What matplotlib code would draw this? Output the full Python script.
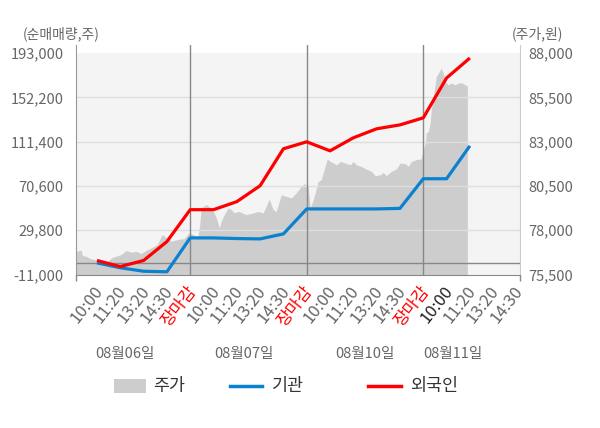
import matplotlib.pyplot as plt
from matplotlib.patches import Rectangle
from matplotlib.lines import Line2D
from matplotlib.transforms import blended_transform_factory, offset_copy

plt.rcParams['font.family'] = ['Noto Sans CJK KR', 'DejaVu Sans']

# x axis: 5 slots per trading day (open, 10:00, 11:20, 13:20, 14:30, 장마감)
tick_labels = ['10:00', '11:20', '13:20', '14:30', '장마감'] * 3 + ['10:00', '11:20', '13:20', '14:30']
dates = ['08월06일', '08월07일', '08월10일', '08월11일']

# cumulative net buying (주) at each tick
flow_pos = list(range(1, 18))
inst = [-300, -4800, -8000, -8500, 22700, 22700, 22100, 21800, 26400,
        49400, 49400, 49400, 49400, 49900, 77200, 77200, 107500]
foreign = [1900, -3700, 1900, 19300, 48700, 48700, 56100, 70800, 104800,
           111200, 102900, 114900, 123200, 126800, 133300, 170000, 188400]

# share price (원)
price_pos = [0.10, 0.32, 0.37, 0.54, 0.67, 0.88, 1.09, 1.27, 1.44, 1.65, 2.04, 2.25, 2.47,
             2.68, 2.90, 3.11, 3.33, 3.58, 3.80, 3.97, 4.19, 4.44, 4.74, 4.96,
             5.13, 5.26, 5.34, 5.41, 5.47, 5.69, 5.82, 5.99, 6.12, 6.25, 6.33, 6.46, 6.63,
             6.76, 6.89, 7.10, 7.40, 7.70, 7.92, 8.13, 8.26, 8.39, 8.56, 8.69, 8.91, 9.12,
             9.34, 9.55, 9.76, 9.89, 9.98,
             10.06, 10.15, 10.28, 10.49, 10.62, 10.79, 10.88, 11.01, 11.14, 11.27, 11.44,
             11.65, 11.87, 12.00, 12.12, 12.34, 12.55, 12.77, 12.94, 13.16, 13.28, 13.41,
             13.63, 13.84, 14.01, 14.23, 14.36, 14.49, 14.70, 14.91,
             15.00, 15.09, 15.13, 15.22, 15.30, 15.34, 15.43, 15.52, 15.56, 15.69, 15.77,
             15.86, 15.94, 16.07, 16.20, 16.37, 16.50, 16.63, 16.80, 16.89]
price = [76800, 76870, 76570, 76530, 76420, 76350, 76250, 76060, 76230, 76460, 76630, 76850, 76760,
         76810, 76680, 76870, 77000, 77190, 77750, 77580, 77380, 77470, 77530, 77870,
         77750, 77660, 77700, 78320, 79270, 79440, 79330, 79060, 78710, 78130, 78500, 78880, 79260,
         79160, 78990, 79060, 78880, 78970, 79060, 78970, 79350, 79760, 79160, 79060, 80000, 79910,
         79820, 80100, 80470, 80620, 80570,
         80470, 79270, 79720, 80750, 80850, 81600, 82020, 81880, 81790, 81690, 81880,
         81790, 81690, 81880, 81690, 81600, 81450, 81320, 81080, 81130, 81260, 81080,
         81320, 81450, 81790, 81750, 81600, 81880, 81980, 82020,
         82540, 82930, 83500, 83570, 84060, 84790, 85540, 86300, 86670, 86950, 87140,
         86860, 86390, 86200, 86300, 86200, 86300, 86330, 86200, 86140]

left_ticks = [-11000, 29800, 70600, 111400, 152200, 193000]
right_ticks = [75500, 78000, 80500, 83000, 85500, 88000]
head = 1.0361  # axes extend a little above the top gridline

fig = plt.figure(figsize=(6, 4.28), dpi=100)
ax = fig.add_axes([76 / 600, 1 - 274.5 / 428, 444 / 600, 229.5 / 428])
ax2 = ax.twinx()
ax.set_zorder(ax2.get_zorder() + 1)
ax.patch.set_visible(False)
ax2.patch.set_visible(True)
ax2.patch.set_facecolor('white')

# price area
ax2.axhspan(right_ticks[0], right_ticks[-1], color='#f4f4f4', lw=0, zorder=0)
ax2.fill_between(price_pos, right_ticks[0], price, color='#cdcdcd', lw=0, zorder=1)
ax2.set_ylim(right_ticks[0], right_ticks[0] + (right_ticks[-1] - right_ticks[0]) * head)
ax2.set_yticks(right_ticks)
ax2.set_yticklabels([f'{v:,}' for v in right_ticks])

# gridlines, zero line, day separators
for v in left_ticks[1:-1]:
    ax.axhline(v, color='#dedede', lw=1, zorder=1)
ax.axhline(0, color='#888888', lw=1, zorder=2)
for d in [5, 10, 15]:
    ax.axvline(d, color='#888888', lw=1, zorder=2)

ax.plot(flow_pos, inst, color='#0a82d0', lw=2.3, zorder=4, solid_capstyle='butt')
ax.plot(flow_pos, foreign, color='#ff0000', lw=2.3, zorder=5, solid_capstyle='butt')

ax.set_ylim(left_ticks[0], left_ticks[0] + (left_ticks[-1] - left_ticks[0]) * head)
ax.set_yticks(left_ticks)
ax.set_yticklabels([f'{v:,}' for v in left_ticks])
ax.set_xlim(0.1, 19.15)

ax.set_xticks(range(1, 20))
ax.set_xticklabels(tick_labels, rotation=52, ha='right', va='center', rotation_mode='anchor')
ax.set_xticks([0.1, 5, 10, 15, 19.15], minor=True)
for t in ax.get_xticklabels():
    if t.get_text() == '장마감':
        t.set_color('#ff0000')
    else:
        t.set_color('#666666')
ax.get_xticklabels()[15].set_color('#222222')

ax.tick_params(axis='x', which='major', length=0, pad=10, labelsize=12)
ax.tick_params(axis='x', which='minor', length=4, color='#888888', width=1)
ax.tick_params(axis='y', length=0, pad=9, labelsize=10.5, labelcolor='#666666')
ax2.tick_params(axis='y', length=0, pad=6, labelsize=10.5, labelcolor='#666666')
# nudge rotated labels slightly right, as in the reference
for t in ax.get_xticklabels():
    t.set_transform(offset_copy(t.get_transform(), fig=fig, x=3, y=0, units='dots'))

for s in ['top', 'right']:
    ax.spines[s].set_visible(False)
for s in ['top', 'left', 'bottom']:
    ax2.spines[s].set_visible(False)
ax.spines['left'].set_color('#999999')
ax.spines['bottom'].set_color('#888888')
ax2.spines['right'].set_color('#cccccc')

# day labels
tr = blended_transform_factory(ax.transData, fig.transFigure)
for x, lab in zip([2.2, 7.3, 12.5, 16.25], dates):
    ax.text(x, 1 - 354 / 428, lab, transform=tr, ha='center', va='center',
            fontsize=10.5, color='#666666')

fig.text(23 / 600, 1 - 34 / 428, '(순매매량,주)', ha='left', va='center', fontsize=10, color='#666666')
fig.text(563 / 600, 1 - 34 / 428, '(주가,원)', ha='right', va='center', fontsize=10, color='#666666')

# legend
ly = 1 - 386 / 428
fig.add_artist(Rectangle((114 / 600, ly - 7 / 428), 32 / 600, 14 / 428,
                         transform=fig.transFigure, facecolor='#cdcdcd', lw=0))
fig.add_artist(Line2D([230 / 600, 262 / 600], [ly, ly], transform=fig.transFigure,
                      color='#0a82d0', lw=2.5))
fig.add_artist(Line2D([368 / 600, 401 / 600], [ly, ly], transform=fig.transFigure,
                      color='#ff0000', lw=2.5))
for x, lab in zip([153, 272, 410], ['주가', '기관', '외국인']):
    fig.text(x / 600, ly, lab, ha='left', va='center', fontsize=12.5, color='#333333')

fig.savefig('out.png', dpi=100)
